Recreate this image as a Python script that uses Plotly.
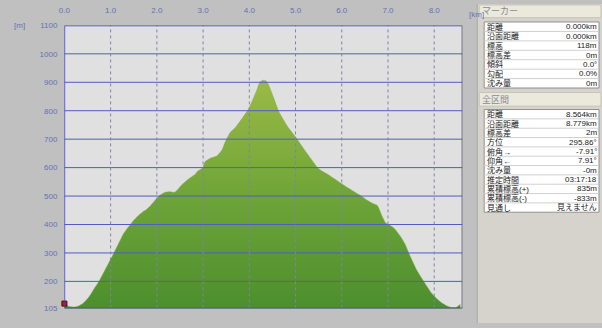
import plotly.graph_objects as go

# ---------------- data ----------------
dist_km = [0.00, 0.10, 0.20, 0.30, 0.40, 0.49, 0.56, 0.63, 0.74, 0.84, 0.95, 1.06, 1.17, 1.27,
           1.38, 1.48, 1.59, 1.70, 1.77, 1.84, 1.95, 2.06, 2.16, 2.27, 2.38, 2.45, 2.52, 2.62,
           2.73, 2.84, 2.88, 2.99, 3.05, 3.16, 3.30, 3.41, 3.48, 3.59, 3.70, 3.88, 3.98, 4.09,
           4.17, 4.23, 4.30, 4.36, 4.41, 4.52, 4.63, 4.73, 4.84, 4.95, 5.05, 5.16, 5.27, 5.38,
           5.48, 5.59, 5.70, 5.80, 5.91, 6.02, 6.12, 6.23, 6.34, 6.45, 6.55, 6.66, 6.77, 6.87,
           6.95, 7.02, 7.09, 7.16, 7.27, 7.37, 7.45, 7.52, 7.62, 7.73, 7.84, 7.94, 8.05, 8.16,
           8.27, 8.37, 8.47, 8.564]
elev_m = [118, 112, 110, 113, 122, 137, 152, 171, 198, 228, 262, 296, 332, 365,
          390, 411, 430, 445, 452, 462, 483, 502, 512, 515, 513, 522, 536, 551,
          565, 578, 587, 599, 622, 633, 641, 662, 690, 724, 741, 781, 804, 844,
          875, 901, 907, 905, 893, 848, 799, 770, 741, 718, 696, 670, 645, 620,
          599, 586, 576, 565, 553, 541, 530, 519, 508, 497, 485, 475, 467, 430,
          405, 399, 392, 382, 358, 331, 300, 274, 240, 211, 183, 159, 140, 125,
          114, 108, 108, 120]

x_ticks = [0, 1, 2, 3, 4, 5, 6, 7, 8]
x_tick_text = ["0.0", "1.0", "2.0", "3.0", "4.0", "5.0", "6.0", "7.0", "8.0"]
y_ticks = [105, 200, 300, 400, 500, 600, 700, 800, 900, 1000, 1100]
y_tick_text = ["105", "200", "300", "400", "500", "600", "700", "800", "900", "1000", "1100"]

marker_labels = ["距離", "沿面距離", "標高", "標高差", "傾斜", "勾配", "沈み量"]
marker_values = ["0.000km", "0.000km", "118m", "0m", "0.0°", "0.0%", "0m"]
total_labels = ["距離", "沿面距離", "標高差", "方位", "俯角→", "仰角←", "沈み量",
                "推定時間", "累積標高(+)", "累積標高(-)", "見通し"]
total_values = ["8.564km", "8.779km", "2m", "295.86°", "-7.91°", "7.91°", "-0m",
                "03:17:18", "835m", "-833m", "見えません"]

# ---------------- layout geometry (pixels) ----------------
W, H = 602, 328
PL, PR, PT, PB = 59, 461, 22, 313


def fx(x):
    return x / W


def fy(y):
    return 1 - y / H


X_MAX = 8.61
Y_MIN, Y_MAX = 105, 1100

fig = go.Figure()

fig.add_trace(go.Scatter(
    x=dist_km, y=elev_m, mode="lines", fill="tozeroy",
    line=dict(width=0.5, color="#7fa844", shape="spline", smoothing=0.4),
    fillgradient=dict(type="vertical", start=105, stop=910,
                      colorscale=[[0, "#4a8d2d"], [0.5, "#6ea438"], [1, "#9aba46"]]),
    hoverinfo="skip", showlegend=False,
))

# start marker icon
fig.add_trace(go.Scatter(
    x=[0], y=[122], mode="markers",
    marker=dict(symbol="square", size=5, color="#c01818", line=dict(color="#401010", width=1)),
    hoverinfo="skip", showlegend=False, cliponaxis=False,
))

shapes = []
# horizontal grid (above fill)
for yv in y_ticks[1:-1]:
    shapes.append(dict(type="line", xref="x", yref="y", x0=0, x1=X_MAX, y0=yv, y1=yv,
                       line=dict(color="#4f5cc4", width=1), layer="above"))
# vertical dotted grid
for xv in x_ticks[1:]:
    shapes.append(dict(type="line", xref="x", yref="y", x0=xv, x1=xv, y0=Y_MIN, y1=Y_MAX,
                       line=dict(color="#7c84a8", width=1, dash="dot"), layer="above"))
# frame
shapes.append(dict(type="line", xref="x", yref="y", x0=0, x1=X_MAX, y0=Y_MAX, y1=Y_MAX,
                   line=dict(color="#3030c8", width=1.5), layer="above"))
shapes.append(dict(type="line", xref="x", yref="y", x0=X_MAX, x1=X_MAX, y0=Y_MIN, y1=Y_MAX,
                   line=dict(color="#505070", width=1.5), layer="above"))
shapes.append(dict(type="line", xref="x", yref="y", x0=0, x1=0, y0=Y_MIN, y1=Y_MAX,
                   line=dict(color="#3838e0", width=1.5), layer="above"))
shapes.append(dict(type="line", xref="x", yref="y", x0=0, x1=X_MAX, y0=Y_MIN, y1=Y_MIN,
                   line=dict(color="#4a5a86", width=2), layer="above"))

# right panel
PX0 = 476
shapes.append(dict(type="rect", xref="paper", yref="paper", x0=fx(PX0), x1=1, y0=0, y1=1,
                   fillcolor="#d6d3cc", line=dict(width=0), layer="below"))
shapes.append(dict(type="line", xref="paper", yref="paper", x0=fx(PX0), x1=fx(PX0), y0=0, y1=1,
                   line=dict(color="#a8a8a8", width=1), layer="below"))

annotations = []
TXT = "Liberation Sans, Noto Sans CJK JP"


def header(y0, y1, text):
    shapes.append(dict(type="rect", xref="paper", yref="paper", x0=fx(PX0 + 2), x1=fx(601),
                       y0=fy(y1), y1=fy(y0), fillcolor="#ebe8dc",
                       line=dict(color="#c8c4b8", width=1), layer="below"))
    annotations.append(dict(xref="paper", yref="paper", x=fx(PX0 + 4), y=fy((y0 + y1) / 2),
                            text=text, showarrow=False, xanchor="left", yanchor="middle",
                            borderpad=0,
                            font=dict(family=TXT, size=9, color="#8a8a9a")))


def table(top, rh, labels, values):
    n = len(labels)
    shapes.append(dict(type="rect", xref="paper", yref="paper", x0=fx(483), x1=fx(599),
                       y0=fy(top + n * rh), y1=fy(top), fillcolor="#ffffff",
                       line=dict(color="#909090", width=1), layer="below"))
    for i, (lab, val) in enumerate(zip(labels, values)):
        if i > 0:
            shapes.append(dict(type="line", xref="paper", yref="paper", x0=fx(483), x1=fx(599),
                               y0=fy(top + i * rh), y1=fy(top + i * rh),
                               line=dict(color="#d0d0d0", width=1), layer="below"))
        yc = fy(top + (i + 0.5) * rh)
        annotations.append(dict(xref="paper", yref="paper", x=fx(485), y=yc, text=lab,
                                showarrow=False, xanchor="left", yanchor="middle",
                                borderpad=0,
                                font=dict(family=TXT, size=8, color="#202020")))
        annotations.append(dict(xref="paper", yref="paper", x=fx(598), y=yc, text=val,
                                showarrow=False, xanchor="right", yanchor="middle",
                                borderpad=0,
                                font=dict(family=TXT, size=8, color="#202020")))


header(1, 14, "マーカー")
table(18.5, 9.7, marker_labels, marker_values)
header(91, 105, "全区間")
table(108.5, 9.6, total_labels, total_values)

# unit labels
annotations.append(dict(xref="paper", yref="paper", x=fx(14), y=fy(22), text="[m]",
                        showarrow=False, xanchor="center", yanchor="middle",
                        font=dict(family="Liberation Sans", size=8, color="#6470b4")))
annotations.append(dict(xref="paper", yref="paper", x=fx(466), y=fy(11), text="[km]",
                        showarrow=False, xanchor="left", yanchor="middle",
                        font=dict(family="Liberation Sans", size=8, color="#6470b4")))

fig.update_layout(
    width=W, height=H,
    margin=dict(l=0, r=0, t=0, b=0),
    paper_bgcolor="#c0c0c0",
    plot_bgcolor="#e0e0e0",
    shapes=shapes,
    annotations=annotations,
    xaxis=dict(domain=[fx(PL), fx(PR)], range=[0, X_MAX], side="top",
               tickvals=x_ticks, ticktext=x_tick_text, showgrid=False, zeroline=False,
               showline=False, ticks="", ticklabelstandoff=10,
               tickfont=dict(family="Liberation Sans", size=8, color="#6470b4")),
    yaxis=dict(domain=[fy(PB), fy(PT)], range=[Y_MIN, Y_MAX],
               tickvals=y_ticks, ticktext=y_tick_text, showgrid=False, zeroline=False,
               showline=False, ticks="", ticklabelstandoff=6,
               tickfont=dict(family="Liberation Sans", size=8, color="#6470b4")),
)

fig.write_html("out.html")
